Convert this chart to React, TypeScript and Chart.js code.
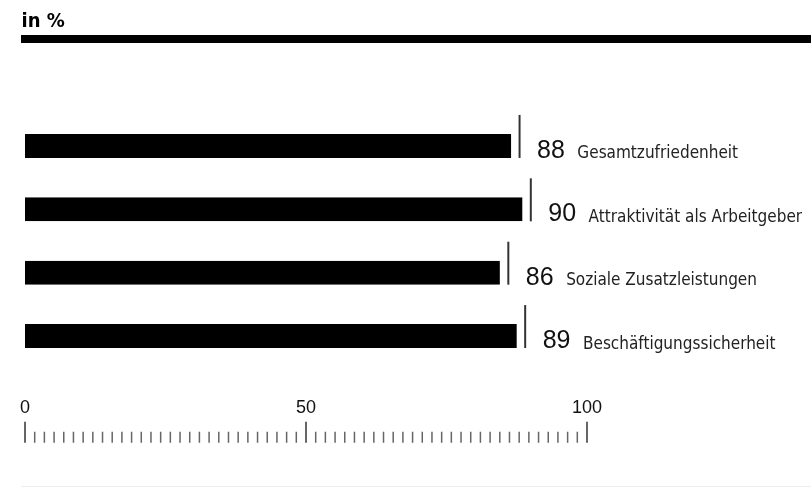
import React, { useEffect, useRef } from "react";
import { Chart, registerables } from "chart.js";

Chart.register(...registerables);

const TITLE = "in %";
const categories = [
  "Gesamtzufriedenheit",
  "Attraktivität als Arbeitgeber",
  "Soziale Zusatzleistungen",
  "Beschäftigungssicherheit",
];
const values = [88, 90, 86, 89];
const axisTicks = [0, 50, 100];
const minorPerSegment = 29;

const overlay = {
  id: "overlay",
  afterDatasetsDraw(chart: any) {
    const ctx = chart.ctx as CanvasRenderingContext2D;
    const xs = chart.scales.x;
    const area = chart.chartArea;
    const meta = chart.getDatasetMeta(0);
    ctx.save();
    // header
    ctx.fillStyle = "#000";
    ctx.textBaseline = "alphabetic";
    ctx.textAlign = "left";
    ctx.font = "bold 20px 'DejaVu Sans Condensed', 'DejaVu Sans', sans-serif";
    ctx.fillText(TITLE, 21.5, 27);
    ctx.fillRect(21, 35, chart.width - 21, 8);

    // markers + labels
    meta.data.forEach((bar: any, i: number) => {
      const { x, y, height } = bar.getProps(["x", "y", "height"], true);
      const top = y - height / 2;
      const bottom = y + height / 2;
      ctx.strokeStyle = "#333";
      ctx.lineWidth = 2;
      ctx.beginPath();
      ctx.moveTo(x, top - 19);
      ctx.lineTo(x, bottom);
      ctx.stroke();
      const num = String(values[i]);
      ctx.font = "25px 'Liberation Sans', Arial, sans-serif";
      ctx.fillStyle = "#111";
      ctx.fillText(num, x + 17.5, bottom);
      const w = ctx.measureText(num).width;
      ctx.font = "17px 'DejaVu Sans Condensed', 'DejaVu Sans', sans-serif";
      ctx.fillStyle = "#222";
      ctx.fillText(categories[i], x + 17.5 + w + 12.5, bottom + 0.5);
    });

    // ruler axis
    const labelY = area.bottom + 45;
    ctx.font = "18px 'Liberation Sans', Arial, sans-serif";
    ctx.fillStyle = "#111";
    ctx.textAlign = "center";
    axisTicks.forEach((v) => {
      const px = xs.getPixelForValue(v);
      ctx.fillText(String(v), px, labelY);
    });
    ctx.fillStyle = "#666";
    const tickBottom = area.bottom + 75;
    axisTicks.forEach((v) => {
      const px = xs.getPixelForValue(v);
      ctx.fillRect(px - 1, tickBottom - 21, 2, 21);
    });
    for (let s = 0; s < axisTicks.length - 1; s++) {
      const a = axisTicks[s];
      const b = axisTicks[s + 1];
      for (let k = 1; k < minorPerSegment; k++) {
        const px = xs.getPixelForValue(a + ((b - a) * k) / minorPerSegment);
        ctx.fillRect(px - 0.75, tickBottom - 11, 1.5, 11);
      }
    }
    // bottom faint rule
    ctx.fillStyle = "#eeeeee";
    ctx.fillRect(21, 486, chart.width - 21, 1);
    ctx.restore();
  },
};

export default function App() {
  const ref = useRef<HTMLCanvasElement>(null);
  useEffect(() => {
    if (!ref.current) return;
    const chart = new Chart(ref.current, {
      type: "bar",
      data: {
        labels: categories,
        datasets: [
          {
            data: values,
            backgroundColor: "#000",
            borderColor: "#fff",
            borderWidth: { left: 0, top: 0, bottom: 0, right: 8.5 },
            borderSkipped: false,
            barThickness: 24,
            inflateAmount: 0,
          } as any,
        ],
      },
      options: {
        indexAxis: "y",
        animation: false,
        responsive: false,
        events: [],
        layout: { padding: { left: 25, right: 224, top: 114.25, bottom: 119.25 } },
        plugins: { legend: { display: false }, tooltip: { enabled: false } },
        scales: {
          x: { type: "linear", min: 0, max: 100, display: false },
          y: { type: "category", display: false, offset: true },
        },
      },
      plugins: [overlay],
    });
    return () => chart.destroy();
  }, []);
  return (
    <div style={{ position: "fixed", left: 0, top: 0, width: 811, height: 487, background: "#fff" }}>
      <canvas ref={ref} width={811} height={487} style={{ display: "block" }} />
    </div>
  );
}
